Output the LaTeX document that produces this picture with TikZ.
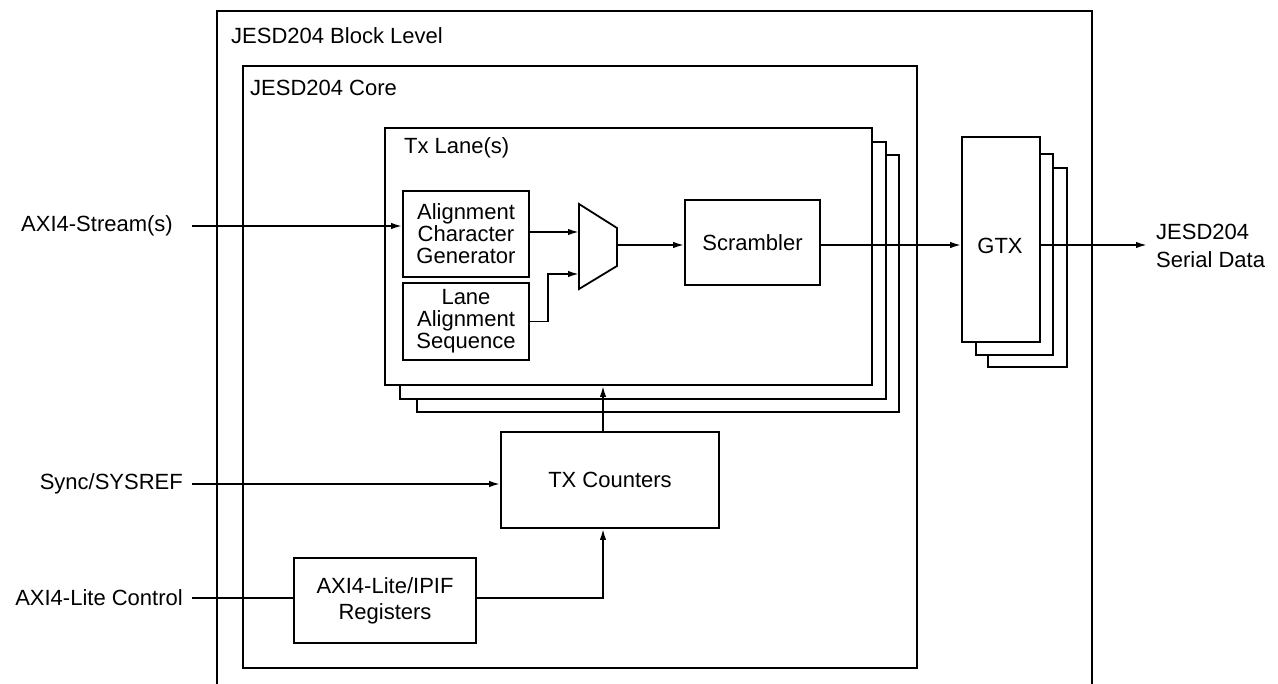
\documentclass[tikz,border=0pt]{standalone}
\usepackage{fontspec}
\setmainfont{Liberation Sans}
\usetikzlibrary{arrows.meta}
\begin{document}
\begin{tikzpicture}[x=1pt,y=-1pt,
  every node/.style={font=\fontsize{22}{22}\selectfont},
  box/.style={draw, line width=1.8pt, fill=white, inner sep=0pt},
  ln/.style={line width=1.8pt},
  arr/.style={ln, -{Latex[length=11pt,width=6.5pt]}},
  lbl/.style={inner sep=0pt}]
\useasboundingbox (0,0) rectangle (1278,684);

% outer block level (open at the bottom)
\coordinate (obl) at (217,684);
\coordinate (obr) at (1092,684);
\draw[ln] (obl) -- (217,11) -- (1092,11) -- (obr);
\node[lbl, anchor=west] (blocklbl) at (231,36) {JESD204 Block Level};

% core
\node[box, fill=none, minimum width=674pt, minimum height=602pt] (core) at (580,367) {};
\node[lbl, anchor=west] (corelbl) at (250,88) {JESD204 Core};

% Tx lanes stack
\node[box, minimum width=482pt, minimum height=257pt] (lane3) at (658,283.5) {};
\node[box, minimum width=486pt, minimum height=257pt] (lane2) at (643,270.5) {};
\node[box, minimum width=487pt, minimum height=257pt] (lane1) at (628.5,256.5) {};
\node[lbl, anchor=west] (lanelbl) at (404,148) {Tx Lane(s)};

% GTX stack
\node[box, minimum width=79pt, minimum height=199pt] (gtx3) at (1027.5,267.5) {};
\node[box, minimum width=77pt, minimum height=201pt] (gtx2) at (1014.5,254.5) {};
\node[box, minimum width=78pt, minimum height=205pt] (gtx1) at (1001,239.5) {};
\node[lbl] (gtxlbl) at (1000,246) {GTX};

% inner blocks
\node[box, minimum width=126pt, minimum height=86pt, align=center] (acg) at (466,234)
  {Alignment\\Character\\Generator};
\node[box, minimum width=126pt, minimum height=77pt, align=center] (las) at (466,321.5)
  {Lane\\Alignment\\Sequence};
\node[box, minimum width=135pt, minimum height=85pt] (scr) at (752.5,242.5) {Scrambler};
\node[box, minimum width=218pt, minimum height=96pt] (txc) at (610,480) {TX Counters};
\node[box, minimum width=182pt, minimum height=85pt, align=center,
  font=\fontsize{22}{26}\selectfont] (regs) at (385,600.5)
  {\raisebox{0pt}{AXI4-Lite/IPIF}\\Registers};

% mux
\draw[ln, fill=white] (579,204) -- (617,228) -- (617,266) -- (579,289) -- cycle;
\coordinate (mi1) at (579,232);
\coordinate (mi2) at (579,274);
\coordinate (mo) at (617,245);

% external labels
\node[lbl, anchor=east] (in1) at (173,226) {AXI4-Stream(s)};
\node[lbl, anchor=east] (in2) at (183,484) {Sync/SYSREF};
\node[lbl, anchor=east] (in3) at (183,598) {AXI4-Lite Control};
\node[lbl, anchor=west, align=left, font=\fontsize{22}{28}\selectfont] (outlbl) at (1156,246)
  {JESD204\\Serial Data};
\coordinate (s1) at (192,226);
\coordinate (s2) at (192,484);
\coordinate (s3) at (192,598);
\coordinate (oend) at (1147,245);
\coordinate (cx) at (603,0);

% connectors
\draw[arr] (s1) -- (s1 -| acg.west);
\draw[arr] (acg.east |- mi1) -- (mi1);
\draw[arr] (las.east) -- ++(18,0) |- (mi2);
\draw[arr] (mo) -- (mo -| scr.west);
\draw[arr] (scr.east |- mo) -- (mo -| gtx1.west);
\draw[arr] (gtx1.east |- mo) -- (oend);
\draw[arr] (s2) -- (s2 -| txc.west);
\draw[arr] (txc.north -| cx) -- (lane1.south -| cx);
\draw[ln] (s3) -- (s3 -| regs.west);
\draw[arr] (regs.east |- s3) -| (txc.south -| cx);
\end{tikzpicture}
\end{document}
